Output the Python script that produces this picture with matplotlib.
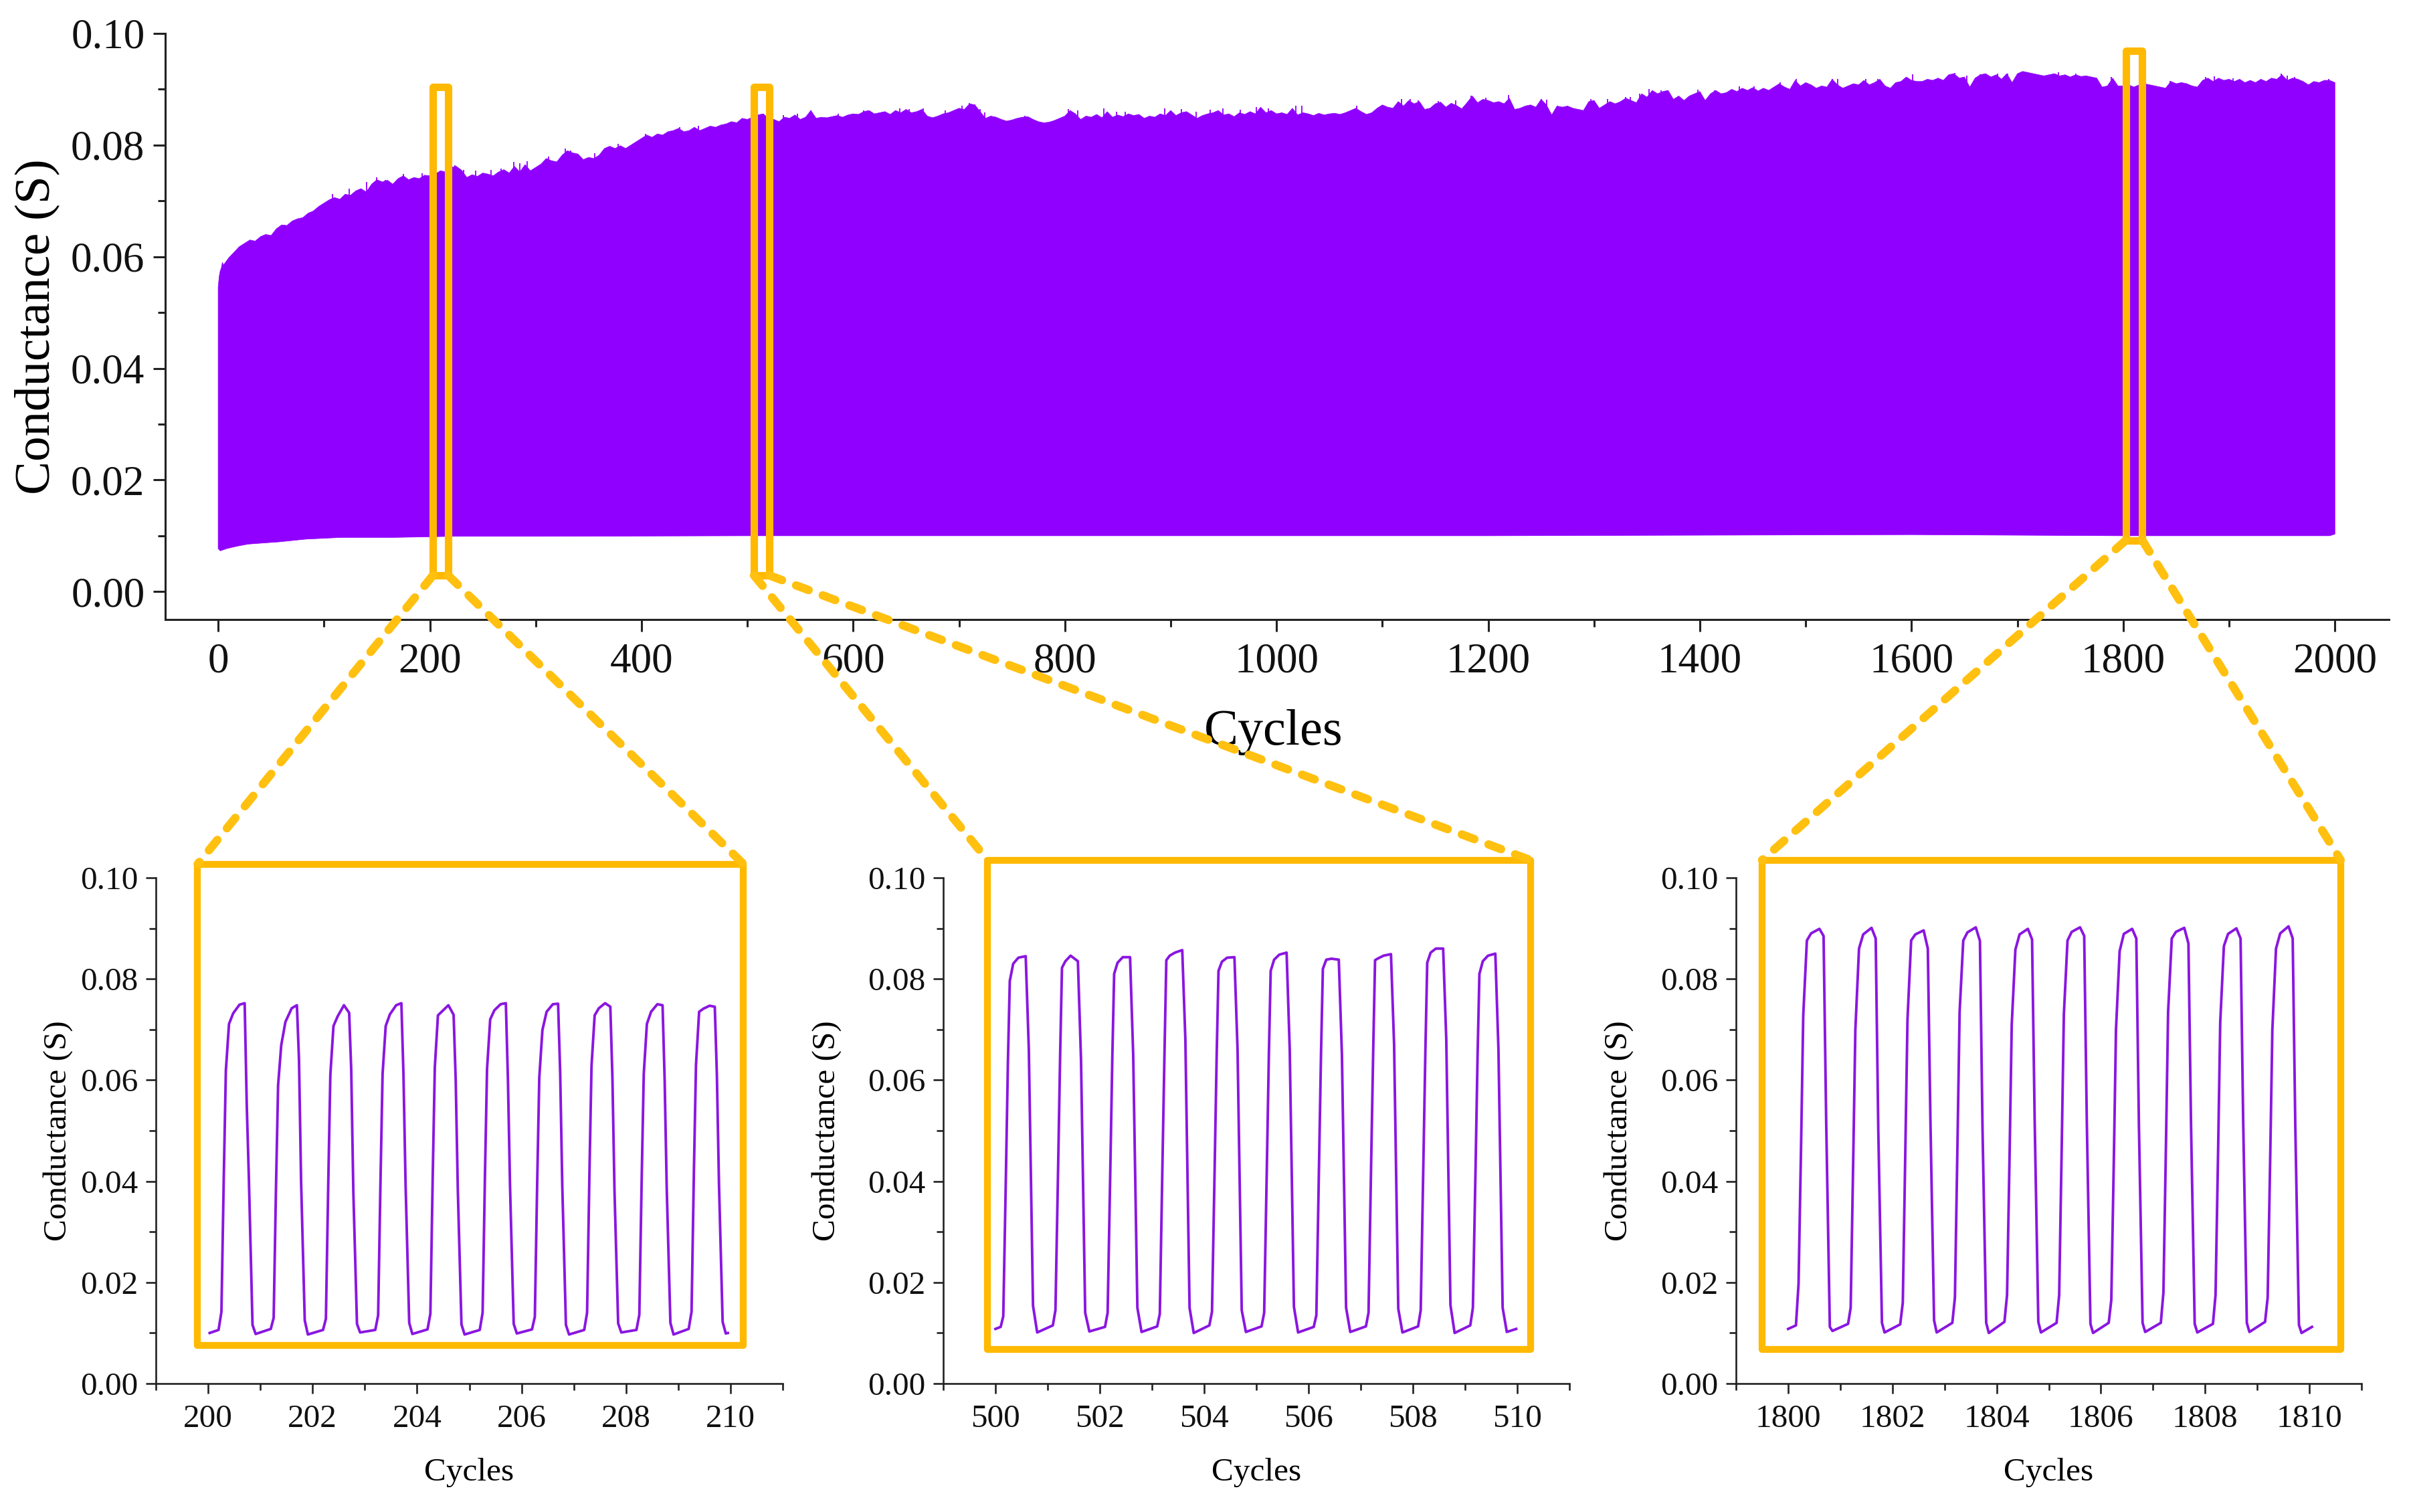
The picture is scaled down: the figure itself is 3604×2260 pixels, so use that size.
import matplotlib
matplotlib.use('Agg')
import matplotlib.pyplot as plt
import numpy as np
from matplotlib.patches import ConnectionPatch, Rectangle
from matplotlib.ticker import MultipleLocator, FormatStrFormatter

plt.rcParams['font.family'] = ['Liberation Serif', 'DejaVu Serif']

# --- long run: envelope of the dense oscillation ---------------------------
rise_x = [0, 0.5, 1, 2, 3, 4]
rise_y = [0.0545, 0.0555, 0.0565, 0.0575, 0.0580, 0.0590]

# one value every 5 cycles, from 5 to 2000
upper_y = [
    0.0585, 0.0598, 0.0608, 0.0618, 0.0624, 0.0630, 0.0628, 0.0636, 0.0640, 0.0638, 0.0650, 0.0657, 0.0656, 0.0664, 0.0668, 0.0670, 0.0678, 0.0682, 0.0690,
    0.0696, 0.0702, 0.0706, 0.0703, 0.0712, 0.0710, 0.0718, 0.0722, 0.0716, 0.0730, 0.0738, 0.0734, 0.0737, 0.0730, 0.0740, 0.0745, 0.0738, 0.0742, 0.0740, 0.0746,
    0.0745, 0.0748, 0.0754, 0.0752, 0.0760, 0.0762, 0.0755, 0.0742, 0.0747, 0.0744, 0.0750, 0.0748, 0.0745, 0.0752, 0.0756, 0.0750, 0.0762, 0.0752, 0.0765, 0.0754,
    0.0760, 0.0766, 0.0776, 0.0772, 0.0770, 0.0782, 0.0790, 0.0786, 0.0784, 0.0774, 0.0778, 0.0776, 0.0782, 0.0794, 0.0798, 0.0794, 0.0799, 0.0794, 0.0800, 0.0806,
    0.0812, 0.0818, 0.0814, 0.0820, 0.0818, 0.0824, 0.0826, 0.0830, 0.0824, 0.0826, 0.0832, 0.0826, 0.0830, 0.0834, 0.0832, 0.0836, 0.0838, 0.0842, 0.0840, 0.0848,
    0.0846, 0.0850, 0.0854, 0.0856, 0.0848, 0.0846, 0.0842, 0.0850, 0.0848, 0.0854, 0.0846, 0.0850, 0.0862, 0.0848, 0.0850, 0.0849, 0.0851, 0.0853, 0.0850, 0.0854,
    0.0856, 0.0855, 0.0860, 0.0862, 0.0856, 0.0858, 0.0860, 0.0855, 0.0862, 0.0858, 0.0864, 0.0858, 0.0860, 0.0864, 0.0852, 0.0849, 0.0852, 0.0856, 0.0858, 0.0862,
    0.0866, 0.0864, 0.0874, 0.0872, 0.0860, 0.0848, 0.0852, 0.0850, 0.0846, 0.0843, 0.0845, 0.0848, 0.0850, 0.0851, 0.0846, 0.0842, 0.0840, 0.0841, 0.0844, 0.0848,
    0.0852, 0.0862, 0.0856, 0.0846, 0.0852, 0.0850, 0.0855, 0.0849, 0.0860, 0.0850, 0.0854, 0.0851, 0.0856, 0.0853, 0.0855, 0.0848, 0.0852, 0.0850, 0.0856, 0.0853,
    0.0862, 0.0853, 0.0858, 0.0860, 0.0854, 0.0848, 0.0853, 0.0856, 0.0858, 0.0862, 0.0854, 0.0856, 0.0851, 0.0858, 0.0855, 0.0860, 0.0856, 0.0868, 0.0858, 0.0862,
    0.0856, 0.0858, 0.0855, 0.0866, 0.0854, 0.0858, 0.0856, 0.0853, 0.0857, 0.0854, 0.0856, 0.0857, 0.0855, 0.0858, 0.0862, 0.0866, 0.0860, 0.0855, 0.0858, 0.0866,
    0.0872, 0.0868, 0.0866, 0.0878, 0.0870, 0.0880, 0.0874, 0.0878, 0.0864, 0.0866, 0.0874, 0.0877, 0.0868, 0.0875, 0.0871, 0.0865, 0.0876, 0.0888, 0.0876, 0.0882,
    0.0880, 0.0876, 0.0878, 0.0874, 0.0884, 0.0864, 0.0866, 0.0870, 0.0872, 0.0868, 0.0882, 0.0872, 0.0854, 0.0870, 0.0868, 0.0870, 0.0866, 0.0864, 0.0862, 0.0878,
    0.0880, 0.0866, 0.0872, 0.0878, 0.0874, 0.0878, 0.0884, 0.0880, 0.0876, 0.0892, 0.0886, 0.0898, 0.0892, 0.0896, 0.0898, 0.0882, 0.0888, 0.0880, 0.0888, 0.0892,
    0.0896, 0.0880, 0.0892, 0.0898, 0.0892, 0.0894, 0.0900, 0.0896, 0.0902, 0.0898, 0.0903, 0.0897, 0.0902, 0.0898, 0.0904, 0.0910, 0.0904, 0.0900, 0.0916, 0.0906,
    0.0912, 0.0908, 0.0902, 0.0906, 0.0904, 0.0918, 0.0908, 0.0902, 0.0906, 0.0910, 0.0908, 0.0916, 0.0908, 0.0912, 0.0918, 0.0906, 0.0902, 0.0912, 0.0914, 0.0922,
    0.0916, 0.0914, 0.0914, 0.0918, 0.0916, 0.0920, 0.0916, 0.0926, 0.0928, 0.0920, 0.0922, 0.0904, 0.0920, 0.0926, 0.0928, 0.0922, 0.0926, 0.0918, 0.0928, 0.0912,
    0.0928, 0.0932, 0.0930, 0.0928, 0.0926, 0.0924, 0.0926, 0.0928, 0.0924, 0.0926, 0.0922, 0.0926, 0.0923, 0.0924, 0.0922, 0.0920, 0.0904, 0.0906, 0.0920, 0.0906,
    0.0906, 0.0908, 0.0904, 0.0908, 0.0910, 0.0908, 0.0906, 0.0904, 0.0902, 0.0914, 0.0910, 0.0912, 0.0910, 0.0906, 0.0904, 0.0916, 0.0920, 0.0914, 0.0920, 0.0916,
    0.0918, 0.0914, 0.0918, 0.0912, 0.0916, 0.0912, 0.0918, 0.0914, 0.0920, 0.0918, 0.0926, 0.0916, 0.0920, 0.0918, 0.0914, 0.0908, 0.0914, 0.0912, 0.0916, 0.0916,
    0.0912,
]
upper_x = np.arange(5, 2001, 5)

lower_x = [0, 2, 8, 17, 28, 42, 57, 83, 116, 165, 222, 306, 500, 800, 1200, 1600, 1800, 1995, 2000]
lower_y = [0.0077, 0.0073, 0.0077, 0.0081, 0.0085, 0.0087, 0.0089, 0.0094, 0.0097, 0.0097, 0.0099, 0.0099,
           0.0100, 0.0100, 0.0100, 0.0102, 0.0100, 0.0100, 0.0103]

# single cycles that stick out above the envelope
spike_x = [108, 124, 140, 150, 158, 175, 193, 224, 232, 243, 258, 267, 279, 285, 292, 312, 328, 333, 356, 370, 378, 404, 436, 454, 467, 483,
           534, 547, 560, 586, 610, 644, 653, 666, 687, 703, 710, 715, 720, 724, 762, 803, 812, 837, 849, 857, 894, 910, 924, 937, 949, 966, 981, 992,
           1018, 1024, 1076, 1118, 1126, 1134, 1153, 1169, 1184, 1198, 1219, 1250, 1255, 1297, 1313, 1330, 1334, 1343, 1352, 1363, 1369, 1398, 1414, 1437, 1451, 1476, 1491,
           1525, 1530, 1557, 1568, 1601, 1641, 1652, 1665, 1681, 1691, 1704, 1709, 1739, 1755, 1789, 1844, 1878, 1886, 1904, 1949, 1955, 1962, 1994]
spike_y = [0.0712, 0.0722, 0.0734, 0.0742, 0.0738, 0.0748, 0.0750, 0.0764, 0.0756, 0.0754, 0.0756, 0.0758, 0.0770, 0.0768, 0.0771, 0.0780, 0.0794, 0.0790, 0.0786, 0.0798, 0.0802, 0.0820, 0.0832, 0.0834, 0.0833, 0.0840,
           0.0854, 0.0856, 0.0862, 0.0856, 0.0862, 0.0866, 0.0864, 0.0866, 0.0862, 0.0870, 0.0875, 0.0873, 0.0864, 0.0858, 0.0853, 0.0864, 0.0862, 0.0866, 0.0860, 0.0860, 0.0866, 0.0864, 0.0860, 0.0863, 0.0866, 0.0863, 0.0868, 0.0866,
           0.0870, 0.0870, 0.0870, 0.0882, 0.0882, 0.0880, 0.0879, 0.0880, 0.0889, 0.0885, 0.0890, 0.0882, 0.0881, 0.0882, 0.0882, 0.0886, 0.0886, 0.0892, 0.0900, 0.0898, 0.0896, 0.0899, 0.0898, 0.0905, 0.0905, 0.0912, 0.0918,
           0.0918, 0.0919, 0.0919, 0.0919, 0.0927, 0.0929, 0.0924, 0.0927, 0.0928, 0.0928, 0.0932, 0.0931, 0.0930, 0.0928, 0.0922, 0.0915, 0.0922, 0.0923, 0.0920, 0.0928, 0.0924, 0.0922, 0.0918]

# --- zoomed windows: one row per cycle, sampled at the phases above each ---
p200_start = [200.03, 0.0100]
p200_end = [209.95, 0.0100]
p200_phase = [0.20, 0.255, 0.30, 0.34, 0.40, 0.48, 0.60, 0.70, 0.74, 0.78, 0.85, 0.91]
p200_rows = [
    [0.0106, 0.0142, 0.0408, 0.0619, 0.0711, 0.0732, 0.0749, 0.0752, 0.0550, 0.0408, 0.0116, 0.0098],
    [0.0108, 0.0130, 0.0390, 0.0590, 0.0669, 0.0715, 0.0742, 0.0748, 0.0640, 0.0400, 0.0125, 0.0097],
    [0.0106, 0.0128, 0.0395, 0.0610, 0.0707, 0.0726, 0.0748, 0.0733, 0.0620, 0.0380, 0.0118, 0.0101],
    [0.0106, 0.0135, 0.0400, 0.0612, 0.0707, 0.0730, 0.0748, 0.0752, 0.0610, 0.0395, 0.0120, 0.0098],
    [0.0107, 0.0138, 0.0410, 0.0625, 0.0728, 0.0736, 0.0748, 0.0729, 0.0600, 0.0385, 0.0117, 0.0097],
    [0.0106, 0.0140, 0.0412, 0.0622, 0.0720, 0.0738, 0.0750, 0.0752, 0.0600, 0.0390, 0.0118, 0.0099],
    [0.0107, 0.0132, 0.0398, 0.0605, 0.0699, 0.0735, 0.0750, 0.0751, 0.0615, 0.0392, 0.0116, 0.0097],
    [0.0106, 0.0140, 0.0415, 0.0628, 0.0728, 0.0742, 0.0752, 0.0745, 0.0605, 0.0380, 0.0119, 0.0101],
    [0.0106, 0.0136, 0.0402, 0.0612, 0.0711, 0.0735, 0.0750, 0.0748, 0.0600, 0.0385, 0.0120, 0.0097],
    [0.0108, 0.0142, 0.0420, 0.0630, 0.0735, 0.0741, 0.0747, 0.0745, 0.0610, 0.0395, 0.0122, 0.0099],
]

p500_start = [500.0, 0.0108]
p500_end = [509.98, 0.0108]
p500_phase = [0.10, 0.15, 0.20, 0.24, 0.275, 0.34, 0.44, 0.58, 0.64, 0.72, 0.80]
p500_rows = [
    [0.0112, 0.0133, 0.0408, 0.0640, 0.0796, 0.0830, 0.0842, 0.0845, 0.0660, 0.0154, 0.0101],
    [0.0115, 0.0145, 0.0420, 0.0650, 0.0822, 0.0835, 0.0846, 0.0835, 0.0640, 0.0140, 0.0103],
    [0.0112, 0.0140, 0.0415, 0.0645, 0.0810, 0.0832, 0.0843, 0.0843, 0.0650, 0.0150, 0.0102],
    [0.0113, 0.0138, 0.0430, 0.0655, 0.0837, 0.0846, 0.0852, 0.0857, 0.0680, 0.0150, 0.0100],
    [0.0115, 0.0142, 0.0420, 0.0650, 0.0816, 0.0834, 0.0842, 0.0843, 0.0660, 0.0145, 0.0102],
    [0.0113, 0.0140, 0.0420, 0.0650, 0.0816, 0.0838, 0.0848, 0.0852, 0.0660, 0.0152, 0.0101],
    [0.0112, 0.0135, 0.0425, 0.0655, 0.0820, 0.0838, 0.0840, 0.0838, 0.0650, 0.0150, 0.0102],
    [0.0113, 0.0140, 0.0435, 0.0660, 0.0837, 0.0841, 0.0846, 0.0849, 0.0670, 0.0148, 0.0101],
    [0.0113, 0.0145, 0.0430, 0.0660, 0.0832, 0.0852, 0.0860, 0.0860, 0.0680, 0.0155, 0.0100],
    [0.0115, 0.0150, 0.0420, 0.0650, 0.0810, 0.0835, 0.0846, 0.0850, 0.0660, 0.0150, 0.0102],
]

p1800_start = [1800.0, 0.0108]
p1800_end = [1810.05, 0.0112]
p1800_phase = [0.15, 0.20, 0.25, 0.29, 0.36, 0.44, 0.60, 0.68, 0.73, 0.80, 0.85]
p1800_rows = [
    [0.0115, 0.0197, 0.0480, 0.0728, 0.0876, 0.0890, 0.0899, 0.0885, 0.0520, 0.0112, 0.0104],
    [0.0118, 0.0150, 0.0450, 0.0700, 0.0860, 0.0888, 0.0901, 0.0880, 0.0500, 0.0120, 0.0101],
    [0.0117, 0.0160, 0.0470, 0.0720, 0.0876, 0.0888, 0.0896, 0.0860, 0.0520, 0.0125, 0.0101],
    [0.0120, 0.0170, 0.0480, 0.0735, 0.0876, 0.0892, 0.0902, 0.0875, 0.0500, 0.0120, 0.0100],
    [0.0122, 0.0175, 0.0460, 0.0710, 0.0858, 0.0888, 0.0899, 0.0878, 0.0520, 0.0122, 0.0101],
    [0.0120, 0.0175, 0.0475, 0.0730, 0.0876, 0.0893, 0.0902, 0.0885, 0.0520, 0.0118, 0.0100],
    [0.0120, 0.0165, 0.0450, 0.0700, 0.0855, 0.0889, 0.0899, 0.0880, 0.0510, 0.0120, 0.0102],
    [0.0120, 0.0180, 0.0480, 0.0735, 0.0880, 0.0893, 0.0901, 0.0870, 0.0510, 0.0118, 0.0101],
    [0.0118, 0.0175, 0.0465, 0.0715, 0.0865, 0.0889, 0.0900, 0.0880, 0.0520, 0.0120, 0.0102],
    [0.0122, 0.0170, 0.0455, 0.0700, 0.0860, 0.0890, 0.0904, 0.0880, 0.0510, 0.0116, 0.0100],
]

# --- highlighted windows, in data coordinates of each axes ------------------
box_cycles = [(202.9, 217.4), (506.3, 520.9), (1802.5, 1818.0)]
box_level = [(0.0029, 0.0904), (0.0029, 0.0904), (0.0092, 0.0969)]
frame_cycles = [(199.8, 210.25), (499.85, 510.25), (1799.5, 1810.6)]
frame_level = [(0.0075, 0.1027), (0.0067, 0.1035), (0.0067, 0.1035)]

# --- figure ------------------------------------------------------------------
W, H = 3604, 2260
PURPLE = '#9000FF'
LINE = '#8A16E0'
ORANGE = '#FFB900'
DASH = '#FFC010'
AXC = '#222222'


def axes_px(left, top, right, bottom):
    return fig.add_axes([left / W, 1 - bottom / H, (right - left) / W, (bottom - top) / H])


def style_axis(ax, width, major, minor, size):
    for side in ('top', 'right'):
        ax.spines[side].set_visible(False)
    for side in ('left', 'bottom'):
        ax.spines[side].set_linewidth(width)
        ax.spines[side].set_color(AXC)
    ax.tick_params(which='major', length=major, width=width, labelsize=size, color=AXC, labelcolor='#111111')
    ax.tick_params(which='minor', length=minor, width=width, color=AXC)
    ax.yaxis.set_major_locator(MultipleLocator(0.02))
    ax.yaxis.set_minor_locator(MultipleLocator(0.01))
    ax.yaxis.set_major_formatter(FormatStrFormatter('%.2f'))


fig = plt.figure(figsize=(W / 100, H / 100), dpi=100)

ax_top = axes_px(247, 50, 3571, 926)
ax_top.fill(np.r_[rise_x, upper_x, lower_x[::-1]], np.r_[rise_y, upper_y, lower_y[::-1]],
            color=PURPLE, lw=0.5)
ax_top.vlines(spike_x, 0.05, spike_y, color=PURPLE, lw=1.3)
ax_top.set_xlim(-50, 2051)
ax_top.set_ylim(-0.005, 0.1)
style_axis(ax_top, 2.2, 13, 8, 45.5)
ax_top.xaxis.set_major_locator(MultipleLocator(200))
ax_top.xaxis.set_minor_locator(MultipleLocator(100))
ax_top.tick_params(axis='x', pad=12)
ax_top.tick_params(axis='y', pad=9)
ax_top.set_xlabel('Cycles', fontsize=55)
ax_top.xaxis.set_label_coords(0.4985, -0.153)
ax_top.set_ylabel('Conductance (S)', fontsize=54, va='center')
ax_top.yaxis.set_label_coords((55 - 247) / 3324, 0.5)

panels = [
    (axes_px(233, 1312, 1170, 2068), p200_start, p200_phase, p200_rows, p200_end, 200, 87),
    (axes_px(1410, 1312, 2346, 2068), p500_start, p500_phase, p500_rows, p500_end, 500, 1236),
    (axes_px(2595, 1312, 3530, 2068), p1800_start, p1800_phase, p1800_rows, p1800_end, 1800, 2420),
]

for i, (ax, start, phase, rows, end, first, label_x) in enumerate(panels):
    xs = [start[0]]
    ys = [start[1]]
    for n, row in enumerate(rows):
        xs.extend(first + n + np.array(phase))
        ys.extend(row)
    xs.append(end[0])
    ys.append(end[1])
    ax.plot(xs, ys, color=LINE, lw=2.8, solid_joinstyle='round')
    ax.set_xlim(first - 1, first + 11)
    ax.set_ylim(0, 0.1)
    style_axis(ax, 1.9, 11, 7, 35.5)
    ax.xaxis.set_major_locator(MultipleLocator(2))
    ax.xaxis.set_minor_locator(MultipleLocator(1))
    ax.tick_params(axis='x', pad=11)
    ax.tick_params(axis='y', pad=8)
    ax.set_xlabel('Cycles', fontsize=35.5)
    ax.xaxis.set_label_coords(0.5, -0.147)
    ax.set_ylabel('Conductance (S)', fontsize=35.5, va='center')
    pos = ax.get_position()
    ax.yaxis.set_label_coords((label_x / W - pos.x0) / pos.width, 0.5)

    # orange boxes and the dashed lines between them
    x0, x1 = box_cycles[i]
    y0, y1 = box_level[i]
    ax_top.add_patch(Rectangle((x0, y0), x1 - x0, y1 - y0, fill=False, ec=ORANGE, lw=8,
                               joinstyle='round', clip_on=False, zorder=6))
    fx0, fx1 = frame_cycles[i]
    fy0, fy1 = frame_level[i]
    ax.add_patch(Rectangle((fx0, fy0), fx1 - fx0, fy1 - fy0, fill=False, ec=ORANGE, lw=7.4,
                           joinstyle='round', clip_on=False, zorder=6))
    for a, b in ((x0, fx0), (x1, fx1)):
        link = ConnectionPatch((a, y0), (b, fy1), coordsA='data', coordsB='data',
                               axesA=ax_top, axesB=ax, color=DASH, lw=9, ls=(0, (1.6, 1.8)),
                               capstyle='round', zorder=7)
        link.set_annotation_clip(False)
        fig.add_artist(link)

fig.savefig('out.png', dpi=100, facecolor='white')
